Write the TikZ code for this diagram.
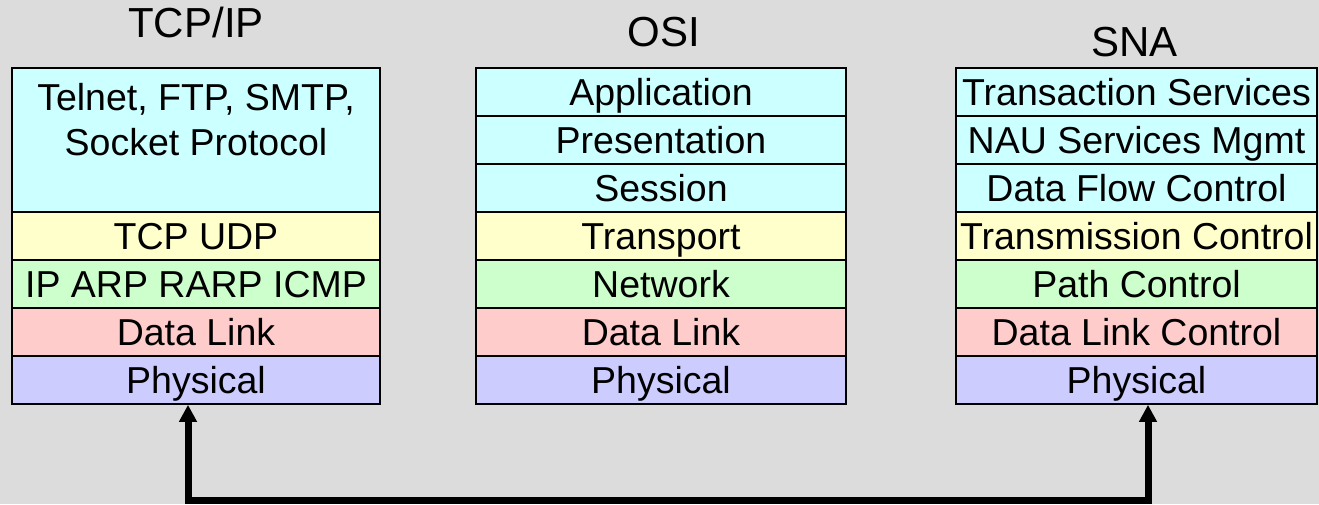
\documentclass[tikz,border=0pt]{standalone}
\usepackage{fontspec}
\setmainfont{Liberation Sans}
\usetikzlibrary{arrows.meta}
\definecolor{bgGray}{HTML}{DCDCDC}
\definecolor{appCyan}{HTML}{CCFFFF}
\definecolor{trnYellow}{HTML}{FFFFCC}
\definecolor{netGreen}{HTML}{CCFFCC}
\definecolor{linkRed}{HTML}{FFCCCC}
\definecolor{physBlue}{HTML}{CCCCFF}
\tikzset{
  layer/.style={draw=black, line width=1.6pt, rectangle, inner sep=0pt,
    minimum height=48pt, font=\fontsize{37.5}{45}\selectfont,
    text height=26.9pt, text depth=0pt},
  title/.style={font=\fontsize{42}{50}\selectfont, inner sep=0pt,
    text height=30pt, text depth=0pt},
  bus/.style={line width=7pt, line join=miter,
    {Triangle[width=17pt,length=17pt]}-{Triangle[width=17pt,length=17pt]}}
}
\begin{document}
\begin{tikzpicture}[x=1pt,y=-1pt]
\useasboundingbox (0,0) rectangle (1319,504);
\fill[bgGray] (0,0) rectangle (1319,504);

% column titles
\node[title] (tTCP) at (196,22) {TCP/IP};
\node[title] (tOSI) at (664,31) {OSI};
\node[title] (tSNA) at (1134.5,41) {SNA};

% TCP/IP stack
\begin{scope}[every node/.append style={minimum width=368pt}]
\node[layer, fill=appCyan, minimum height=144pt] (tcp1) at (196,140) {};
\node[layer, fill=trnYellow] (tcp2) at (196,236) {TCP UDP};
\node[layer, fill=netGreen]  (tcp3) at (196,284) {IP ARP RARP ICMP};
\node[layer, fill=linkRed]   (tcp4) at (196,332) {Data Link};
\node[layer, fill=physBlue]  (tcp5) at (196,380) {Physical};
\end{scope}
\node[font=\fontsize{37.5}{45}\selectfont, align=center, anchor=north, inner sep=0pt]
  (tcp1txt) at ([yshift=-16pt]tcp1.north) {Telnet, FTP, SMTP,\\Socket Protocol};

% OSI stack
\begin{scope}[every node/.append style={minimum width=370pt}]
\node[layer, fill=appCyan]   (osi1) at (661,92)  {Application};
\node[layer, fill=appCyan]   (osi2) at (661,140) {Presentation};
\node[layer, fill=appCyan]   (osi3) at (661,188) {Session};
\node[layer, fill=trnYellow] (osi4) at (661,236) {Transport};
\node[layer, fill=netGreen]  (osi5) at (661,284) {Network};
\node[layer, fill=linkRed]   (osi6) at (661,332) {Data Link};
\node[layer, fill=physBlue]  (osi7) at (661,380) {Physical};
\end{scope}

% SNA stack
\begin{scope}[every node/.append style={minimum width=361pt}]
\node[layer, fill=appCyan]   (sna1) at (1136.5,92)  {Transaction Services};
\node[layer, fill=appCyan]   (sna2) at (1136.5,140) {NAU Services Mgmt};
\node[layer, fill=appCyan]   (sna3) at (1136.5,188) {Data Flow Control};
\node[layer, fill=trnYellow] (sna4) at (1136.5,236) {Transmission Control};
\node[layer, fill=netGreen]  (sna5) at (1136.5,284) {Path Control};
\node[layer, fill=linkRed]   (sna6) at (1136.5,332) {Data Link Control};
\node[layer, fill=physBlue]  (sna7) at (1136.5,380) {Physical};
\end{scope}

% physical link between the two stacks
\coordinate (wire) at (660,500);
\draw[bus] ([xshift=-8pt]tcp5.south) |- (wire) -| ([xshift=11.5pt]sna7.south);
\end{tikzpicture}
\end{document}
